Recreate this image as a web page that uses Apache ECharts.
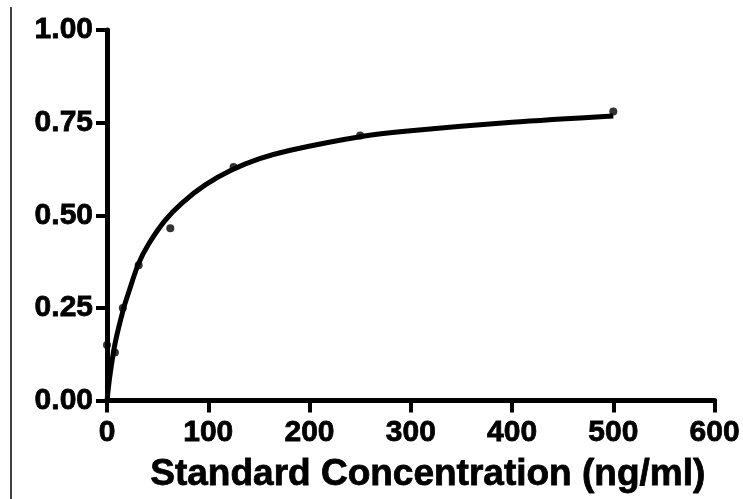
<!DOCTYPE html>
<html>
<head>
<meta charset="utf-8">
<script src="https://cdn.jsdelivr.net/npm/echarts@6/dist/echarts.min.js"></script>
<style>
  html, body { margin: 0; padding: 0; background: #fff; }
  #chart { width: 743px; height: 499px; }
</style>
</head>
<body>
<div id="chart"></div>
<script>
// standard points (concentration ng/ml, OD)
const concentrations = [0, 7.8, 15.6, 31.25, 62.5, 125, 250, 500];
const odValues = [0.15, 0.13, 0.25, 0.365, 0.465, 0.63, 0.715, 0.78];

// fitted curve
const curveX = [0, 3, 8, 16, 21, 31, 41, 57, 74, 97, 123, 150, 180, 250, 300, 400, 500];
const curveY = [0, 0.07, 0.155, 0.245, 0.289, 0.369, 0.422, 0.485, 0.533, 0.582, 0.622, 0.652, 0.675, 0.712, 0.728, 0.751, 0.768];

const yTicks = [0, 0.25, 0.5, 0.75, 1];

const chart = echarts.init(document.getElementById("chart"));
const labelFont = {
	color: "#000",
	fontFamily: "Liberation Sans, Arial, sans-serif",
	fontWeight: "bold",
	textBorderColor: "#000",
	textBorderWidth: 0.8,
};

chart.setOption({
	animation: false,
	grid: {
		left: 107,
		right: 27,
		top: 30,
		bottom: 95,
	},
	xAxis: {
		type: "value",
		min: 0,
		max: 600,
		interval: 100,
		name: "Standard Concentration (ng/ml)",
		nameLocation: "middle",
		nameGap: 56,
		// title sits a bit right of the axis centre in the original
		nameTextStyle: { ...labelFont, fontSize: 37, padding: [0, 0, 0, 34] },
		axisLine: { onZero: false, lineStyle: { color: "#000", width: 5 } },
		axisTick: { length: 12, lineStyle: { color: "#000", width: 4 } },
		axisLabel: { ...labelFont, fontSize: 30, margin: 17 },
		splitLine: { show: false },
	},
	yAxis: {
		type: "value",
		min: yTicks[0],
		max: yTicks[yTicks.length - 1],
		interval: 0.25,
		axisLine: { onZero: false, lineStyle: { color: "#000", width: 5 } },
		axisTick: { length: 11, lineStyle: { color: "#000", width: 4 } },
		axisLabel: {
			...labelFont,
			fontSize: 30,
			margin: 14,
			formatter: (v) => v.toFixed(2),
		},
		splitLine: { show: false },
	},
	graphic: [
		{
			type: "line",
			shape: { x1: 11, y1: 7, x2: 11, y2: 499 },
			style: { stroke: "#000", lineWidth: 1.5 },
		},
	],
	series: [
		{
			type: "line",
			data: curveX.map((x, i) => [x, curveY[i]]),
			smooth: 0.3,
			symbol: "none",
			lineStyle: { color: "#000", width: 5 },
			z: 2,
		},
		{
			type: "scatter",
			data: concentrations.map((x, i) => [x, odValues[i]]),
			symbol: "circle",
			symbolSize: 8,
			itemStyle: { color: "#000" },
			z: 3,
		},
	],
});
</script>
</body>
</html>
